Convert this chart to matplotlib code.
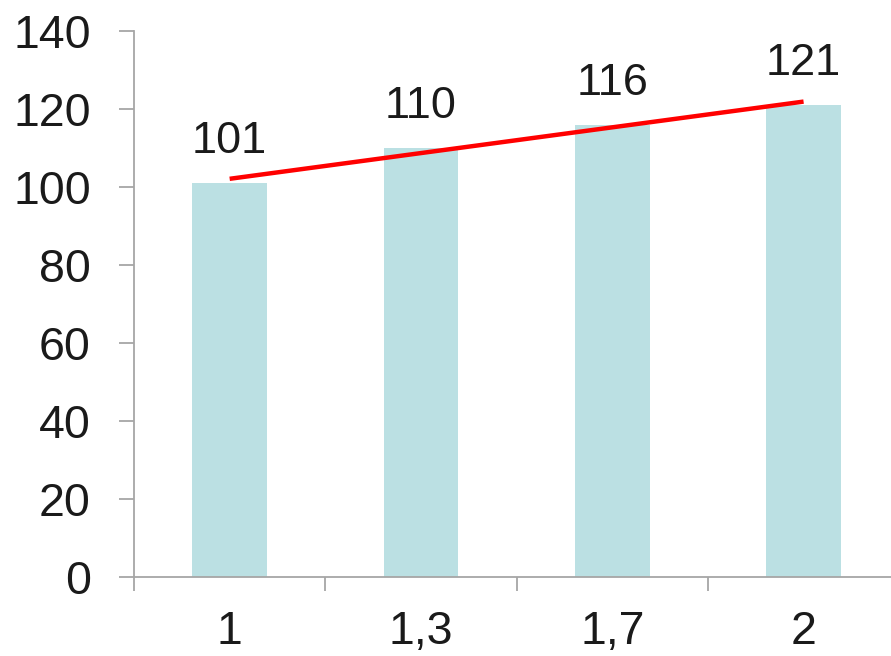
import numpy as np
import matplotlib
matplotlib.use("Agg")
import matplotlib.pyplot as plt
from matplotlib.ticker import FixedLocator

categories = ["1", "1,3", "1,7", "2"]
values = [101, 110, 116, 121]
y_ticks = [0, 20, 40, 60, 80, 100, 120, 140]

bar_color = "#BBE0E3"
axis_color = "#A6A6A6"
text_color = "#1A1A1A"
font = "Liberation Sans"
fs_tick = 33.5
fs_value = 32.5

fig = plt.figure(figsize=(8.91, 6.56), dpi=100)
ax = fig.add_axes([134 / 891, 1 - 577 / 656, 1 - 134 / 891, 546 / 656])

x = np.arange(len(categories))
ax.bar(x, values, width=0.39, color=bar_color, zorder=2)

# linear trend across the categories
slope, intercept = np.polyfit(x, values, 1)
ax.plot(x, slope * x + intercept, color="#FF0000", lw=3.2, zorder=3,
        solid_capstyle="butt")

for xi, v in zip(x, values):
    ax.annotate(str(v), (xi, v), xytext=(0, 15), textcoords="offset points",
                ha="center", va="bottom", fontsize=fs_value, family=font,
                color=text_color)

ax.set_ylim(0, 140)
ax.set_xlim(-0.5, 3.457)
ax.set_yticks(y_ticks)
ax.set_yticklabels([str(t) for t in y_ticks], family=font, fontsize=fs_tick,
                   color=text_color)
ax.set_xticks(x)
ax.set_xticklabels(categories, family=font, fontsize=fs_tick, color=text_color)
ax.xaxis.set_minor_locator(FixedLocator([-0.5, 0.5, 1.5, 2.5, 3.5]))

ax.tick_params(axis="x", which="major", length=0, pad=24)
ax.tick_params(axis="x", which="minor", length=10, width=1.3, color=axis_color,
               direction="out")
ax.tick_params(axis="y", length=11, width=1.3, color=axis_color,
               direction="out", pad=20)

for side in ("top", "right"):
    ax.spines[side].set_visible(False)
for side in ("left", "bottom"):
    ax.spines[side].set_color(axis_color)
    ax.spines[side].set_linewidth(1.3)

fig.savefig("out.png", dpi=100, facecolor="white")
